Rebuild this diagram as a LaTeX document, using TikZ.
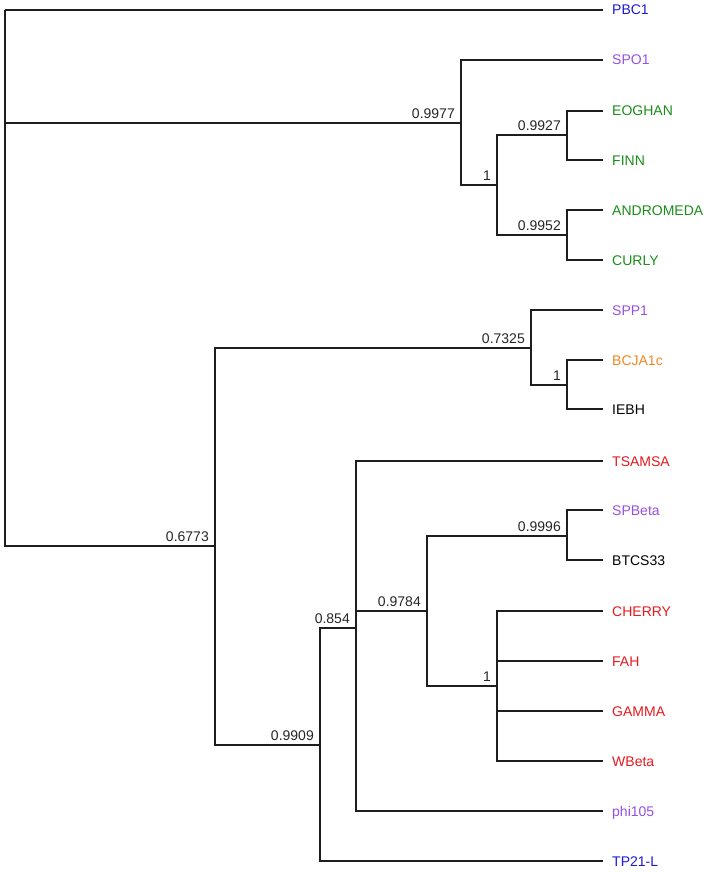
\documentclass[tikz,border=0pt]{standalone}
\usepackage{fontspec}
\setmainfont{Liberation Sans}
\definecolor{cblue}{RGB}{25,25,215}
\definecolor{cpurple}{RGB}{150,80,225}
\definecolor{cgreen}{RGB}{25,140,25}
\definecolor{corange}{RGB}{240,135,35}
\definecolor{cred}{RGB}{230,25,30}
\definecolor{cline}{RGB}{30,30,30}
\tikzset{
  branch/.style={draw=cline,line width=1.1pt},
  leaflab/.style={anchor=base west,inner sep=0pt,xshift=9pt,yshift=-5pt,font=\fontsize{14}{14}\selectfont},
  boot/.style={anchor=south east,inner sep=0pt,xshift=-6pt,yshift=4pt,font=\fontsize{14}{14}\selectfont,text=black!85}
}
\begin{document}
\begin{tikzpicture}[x=1pt,y=-1pt]
\useasboundingbox (0,0) rectangle (707,872);
% internal nodes
\coordinate (root) at (5,10);
\coordinate (n9977) at (461,123);
\coordinate (n1a) at (497,185);
\coordinate (n9927) at (567,135);
\coordinate (n9952) at (567,235);
\coordinate (n6773) at (215,546);
\coordinate (n7325) at (531,348);
\coordinate (n1b) at (567,385);
\coordinate (n9909) at (320,745);
\coordinate (n854) at (356,628);
\coordinate (n9784) at (427,611);
\coordinate (n9996) at (567,536);
\coordinate (n1c) at (497,686);
% leaf ends
\foreach \n/\y in {PBC1/10,SPO1/60,EOGHAN/111,FINN/160,ANDROMEDA/210,CURLY/260,SPP1/310,BCJA1c/360,IEBH/409,TSAMSA/461,SPBeta/510,BTCS33/560,CHERRY/611,FAH/661,GAMMA/711,WBeta/761,phi105/811,TP21L/861}
  \coordinate (e\n) at (603,\y);
% leaf labels
\node[leaflab,text=cblue] (lPBC1) at (ePBC1) {PBC1};
\node[leaflab,text=cpurple] (lSPO1) at (eSPO1) {SPO1};
\node[leaflab,text=cgreen] (lEOGHAN) at (eEOGHAN) {EOGHAN};
\node[leaflab,text=cgreen] (lFINN) at (eFINN) {FINN};
\node[leaflab,text=cgreen] (lANDROMEDA) at (eANDROMEDA) {ANDROMEDA};
\node[leaflab,text=cgreen] (lCURLY) at (eCURLY) {CURLY};
\node[leaflab,text=cpurple] (lSPP1) at (eSPP1) {SPP1};
\node[leaflab,text=corange] (lBCJA1c) at (eBCJA1c) {BCJA1c};
\node[leaflab,text=black] (lIEBH) at (eIEBH) {IEBH};
\node[leaflab,text=cred] (lTSAMSA) at (eTSAMSA) {TSAMSA};
\node[leaflab,text=cpurple] (lSPBeta) at (eSPBeta) {SPBeta};
\node[leaflab,text=black] (lBTCS33) at (eBTCS33) {BTCS33};
\node[leaflab,text=cred] (lCHERRY) at (eCHERRY) {CHERRY};
\node[leaflab,text=cred] (lFAH) at (eFAH) {FAH};
\node[leaflab,text=cred] (lGAMMA) at (eGAMMA) {GAMMA};
\node[leaflab,text=cred] (lWBeta) at (eWBeta) {WBeta};
\node[leaflab,text=cpurple] (lphi105) at (ephi105) {phi105};
\node[leaflab,text=cblue] (lTP21L) at (eTP21L) {TP21-L};
% branches
\draw[branch] (root) |- (ePBC1);
\draw[branch] (root) |- (n9977);
\draw[branch] (root) |- (n6773);
\draw[branch] (n9977) |- (eSPO1);
\draw[branch] (n9977) |- (n1a);
\draw[branch] (n1a) |- (n9927);
\draw[branch] (n1a) |- (n9952);
\draw[branch] (n9927) |- (eEOGHAN);
\draw[branch] (n9927) |- (eFINN);
\draw[branch] (n9952) |- (eANDROMEDA);
\draw[branch] (n9952) |- (eCURLY);
\draw[branch] (n6773) |- (n7325);
\draw[branch] (n6773) |- (n9909);
\draw[branch] (n7325) |- (eSPP1);
\draw[branch] (n7325) |- (n1b);
\draw[branch] (n1b) |- (eBCJA1c);
\draw[branch] (n1b) |- (eIEBH);
\draw[branch] (n9909) |- (n854);
\draw[branch] (n9909) |- (eTP21L);
\draw[branch] (n854) |- (eTSAMSA);
\draw[branch] (n854) |- (n9784);
\draw[branch] (n854) |- (ephi105);
\draw[branch] (n9784) |- (n9996);
\draw[branch] (n9784) |- (n1c);
\draw[branch] (n9996) |- (eSPBeta);
\draw[branch] (n9996) |- (eBTCS33);
\draw[branch] (n1c) |- (eCHERRY);
\draw[branch] (n1c) |- (eFAH);
\draw[branch] (n1c) |- (eGAMMA);
\draw[branch] (n1c) |- (eWBeta);
% support values
\node[boot] (b9977) at (n9977) {0.9977};
\node[boot] (b1a) at (n1a) {1};
\node[boot] (b9927) at (n9927) {0.9927};
\node[boot] (b9952) at (n9952) {0.9952};
\node[boot] (b6773) at (n6773) {0.6773};
\node[boot] (b7325) at (n7325) {0.7325};
\node[boot] (b1b) at (n1b) {1};
\node[boot] (b9909) at (n9909) {0.9909};
\node[boot] (b854) at (n854) {0.854};
\node[boot] (b9784) at (n9784) {0.9784};
\node[boot] (b9996) at (n9996) {0.9996};
\node[boot] (b1c) at (n1c) {1};
\end{tikzpicture}
\end{document}
